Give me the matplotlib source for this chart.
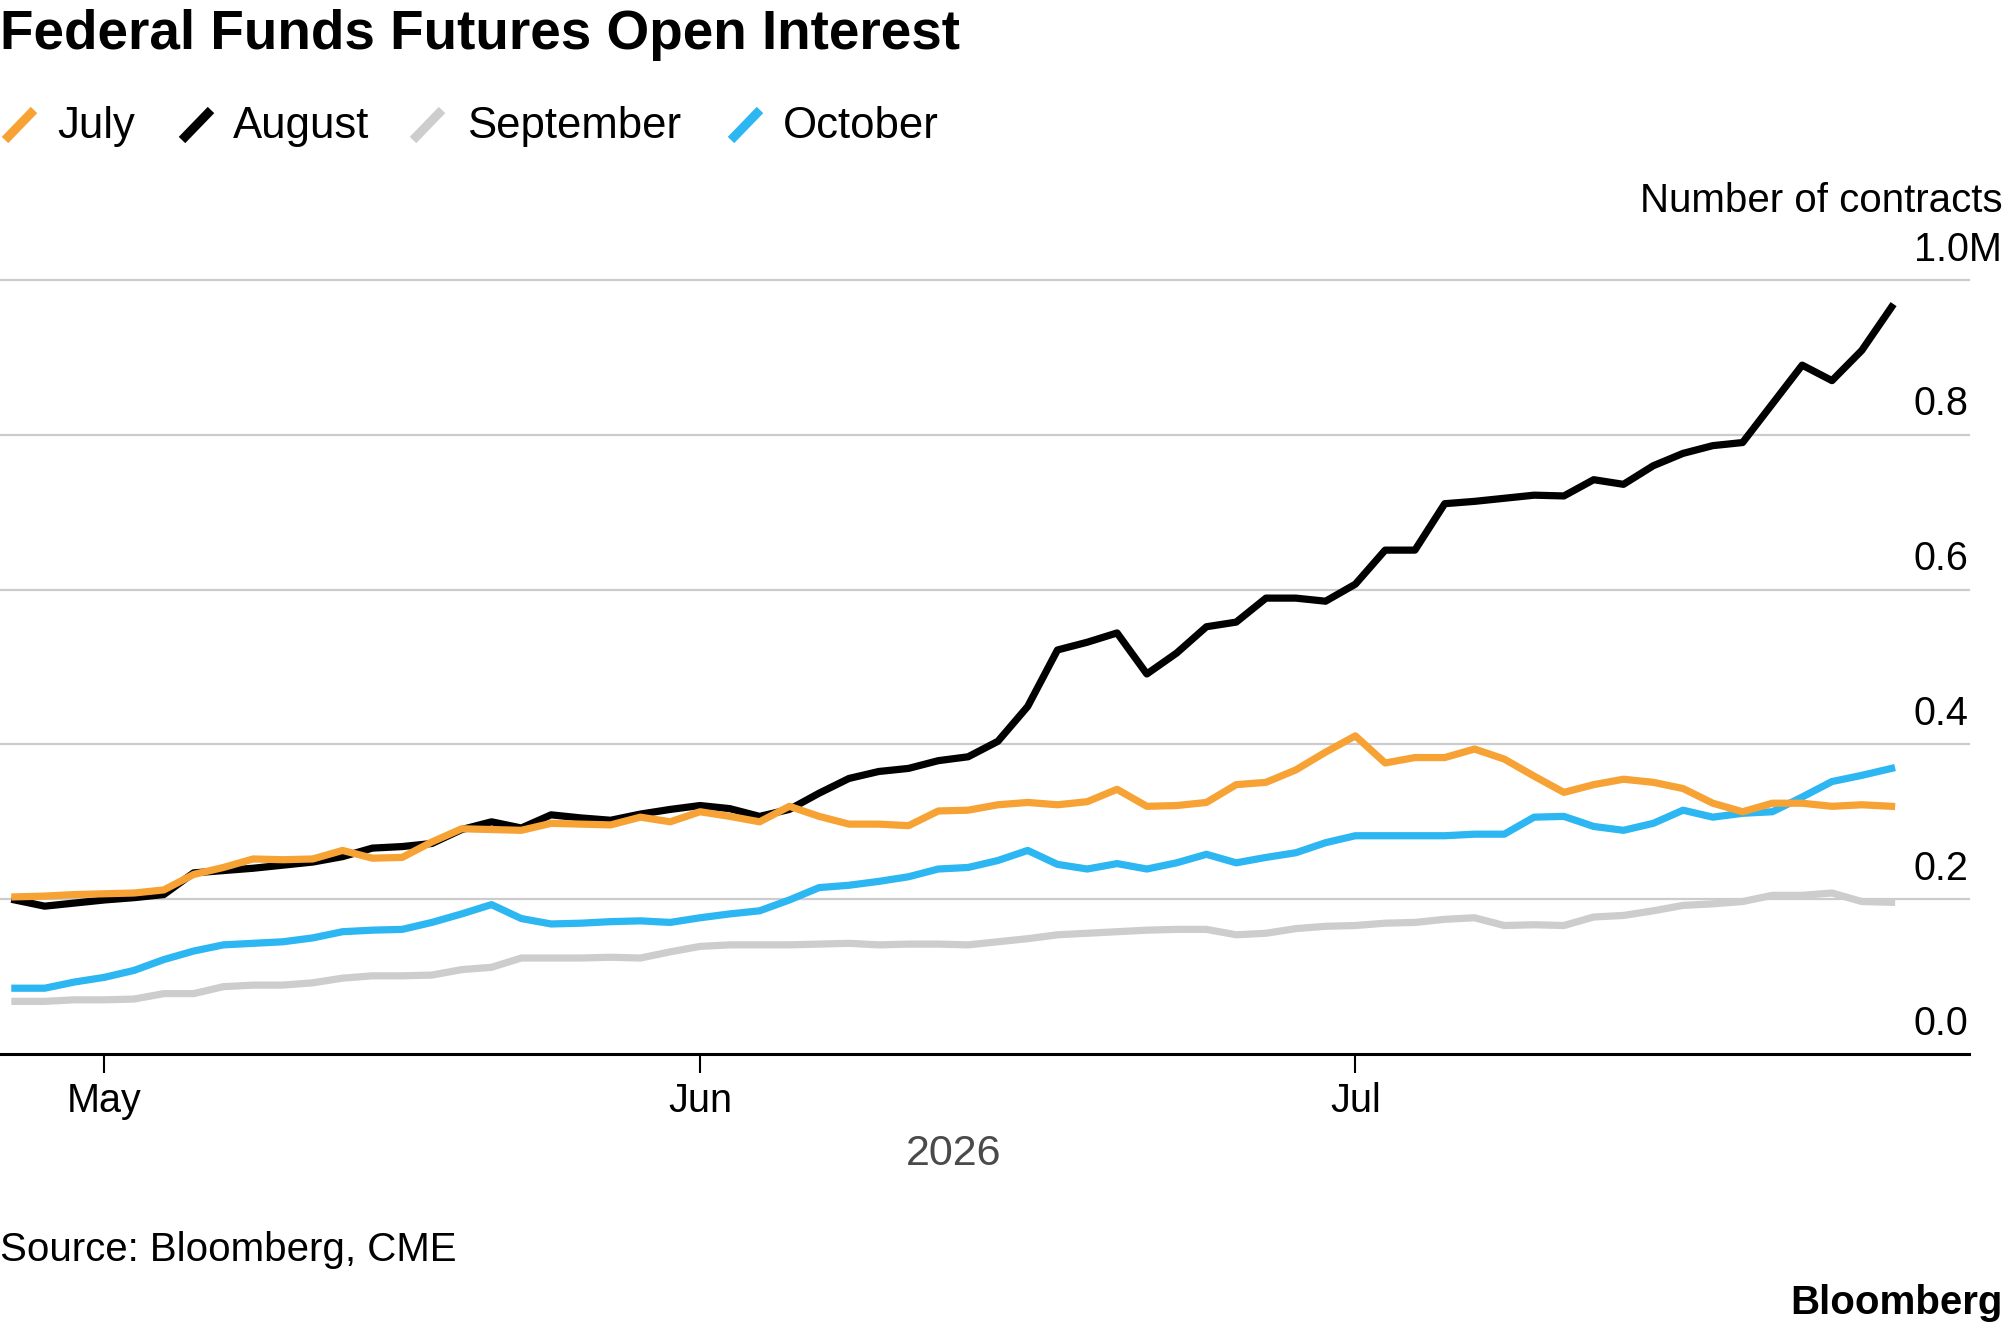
import numpy as np
import pandas as pd
import matplotlib
matplotlib.use("Agg")
import matplotlib.pyplot as plt
from matplotlib.lines import Line2D

plt.rcParams['font.family'] = ['Liberation Sans', 'DejaVu Sans']

# trading days (Memorial Day and Jul 3 holiday skipped)
dates = pd.bdate_range('2026-04-28', periods=64, freq='C',
                       holidays=['2026-05-25', '2026-07-03'])

# open interest, millions of contracts
july = [0.203, 0.204, 0.206, 0.207, 0.208, 0.212, 0.232, 0.241, 0.252, 0.251,
        0.252, 0.263, 0.253, 0.254, 0.274, 0.291, 0.290, 0.289, 0.298, 0.297,
        0.296, 0.306, 0.300, 0.313, 0.307, 0.300, 0.320, 0.307, 0.297, 0.297,
        0.295, 0.314, 0.315, 0.322, 0.325, 0.322, 0.326, 0.342, 0.320, 0.321,
        0.325, 0.348, 0.351, 0.367, 0.390, 0.411, 0.376, 0.383, 0.383, 0.394,
        0.381, 0.359, 0.338, 0.348, 0.355, 0.351, 0.343, 0.324, 0.313, 0.324,
        0.324, 0.320, 0.322, 0.320]
august = [0.199, 0.191, 0.195, 0.199, 0.202, 0.206, 0.234, 0.237, 0.240, 0.244,
          0.248, 0.255, 0.266, 0.268, 0.272, 0.290, 0.300, 0.292, 0.309, 0.305,
          0.302, 0.310, 0.316, 0.321, 0.317, 0.307, 0.316, 0.337, 0.356, 0.365,
          0.369, 0.379, 0.384, 0.404, 0.449, 0.522, 0.532, 0.544, 0.491, 0.518,
          0.552, 0.558, 0.589, 0.589, 0.585, 0.607, 0.651, 0.651, 0.711, 0.714,
          0.718, 0.722, 0.721, 0.742, 0.736, 0.760, 0.776, 0.786, 0.790, 0.840,
          0.890, 0.870, 0.909, 0.965]
september = [0.068, 0.068, 0.070, 0.070, 0.071, 0.078, 0.078, 0.087, 0.089, 0.089,
             0.092, 0.098, 0.101, 0.101, 0.102, 0.109, 0.112, 0.124, 0.124, 0.124,
             0.125, 0.124, 0.132, 0.139, 0.141, 0.141, 0.141, 0.142, 0.143, 0.141,
             0.142, 0.142, 0.141, 0.145, 0.149, 0.154, 0.156, 0.158, 0.160, 0.161,
             0.161, 0.154, 0.156, 0.162, 0.165, 0.166, 0.169, 0.170, 0.174, 0.176,
             0.166, 0.167, 0.166, 0.177, 0.179, 0.185, 0.192, 0.194, 0.197, 0.205,
             0.205, 0.208, 0.197, 0.196]
october = [0.085, 0.085, 0.093, 0.099, 0.108, 0.122, 0.133, 0.141, 0.143, 0.145,
           0.150, 0.158, 0.160, 0.161, 0.170, 0.181, 0.193, 0.175, 0.168, 0.169,
           0.171, 0.172, 0.170, 0.176, 0.181, 0.185, 0.199, 0.215, 0.218, 0.223,
           0.229, 0.239, 0.241, 0.250, 0.263, 0.245, 0.239, 0.246, 0.239, 0.247,
           0.258, 0.247, 0.254, 0.260, 0.273, 0.282, 0.282, 0.282, 0.282, 0.284,
           0.284, 0.306, 0.307, 0.294, 0.289, 0.298, 0.315, 0.306, 0.311, 0.313,
           0.332, 0.352, 0.360, 0.369]

names = ['July', 'August', 'September', 'October']
colors = ['#f7a234', '#000000', '#cdcdcd', '#2cb6f2']
y_ticks = [0.0, 0.2, 0.4, 0.6, 0.8, 1.0]
y_labels = ['0.0', '0.2', '0.4', '0.6', '0.8', '1.0M']

values = dict(zip(names, [july, august, september, october]))
color_of = dict(zip(names, colors))

W, H = 2005, 1329
fig = plt.figure(figsize=(W / 100, H / 100), dpi=100)
ax = fig.add_axes([0, (H - 1054) / H, 1969 / W, (1054 - 280) / H])

x = np.arange(len(dates))
for name in ['September', 'October', 'August', 'July']:
    ax.plot(x, values[name], color=color_of[name], lw=5.2, zorder=3)

ax.set_xlim(-0.5, 65.6)
ax.set_ylim(0, 1.0)

for v in y_ticks[1:]:
    ax.axhline(v, color='#cccccc', lw=1.6, zorder=1, clip_on=False)
for v, lab in zip(y_ticks, y_labels):
    ax.annotate(lab, xy=(0.972, v), xycoords=('axes fraction', 'data'),
                xytext=(0, 14), textcoords='offset points',
                ha='left', va='baseline', fontsize=28.5, annotation_clip=False)

ax.set_yticks([])
for s in ['top', 'right', 'left']:
    ax.spines[s].set_visible(False)
ax.spines['bottom'].set_linewidth(2.2)
ax.spines['bottom'].set_zorder(4)

month_pos = [i for i in range(1, len(dates)) if dates[i].month != dates[i - 1].month]
ax.set_xticks(month_pos)
ax.set_xticklabels([dates[i].strftime('%b') for i in month_pos], fontsize=28.5)
ax.tick_params(axis='x', length=14, width=1.5, pad=6, direction='out')

ax.text(x.mean(), -0.143, str(dates[0].year), transform=ax.get_xaxis_transform(),
        ha='center', va='baseline', fontsize=31, color='#4a4a4a')

# title, legend and notes
fig.text(0, 1 - 49 / H, 'Federal Funds Futures Open Interest',
         fontsize=39.5, fontweight='bold', va='baseline', ha='left')

slash_x = [5, 182, 413, 731]
text_x = [57, 233, 467, 783]
for name, sx, tx in zip(names, slash_x, text_x):
    fig.add_artist(Line2D([sx / W, (sx + 29) / W], [1 - 140 / H, 1 - 110 / H],
                          transform=fig.transFigure, color=color_of[name],
                          lw=6.5, solid_capstyle='butt'))
    fig.text(tx / W, 1 - 138 / H, name, fontsize=31.5, va='baseline', ha='left')

fig.text(2003 / W, 1 - 212 / H, 'Number of contracts', fontsize=29,
         ha='right', va='baseline')
fig.text(0, 1 - 1261 / H, 'Source: Bloomberg, CME', fontsize=29,
         ha='left', va='baseline')
fig.text(2003 / W, 1 - 1314 / H, 'Bloomberg', fontsize=29, fontweight='bold',
         ha='right', va='baseline')

fig.savefig('out.png', dpi=100)
